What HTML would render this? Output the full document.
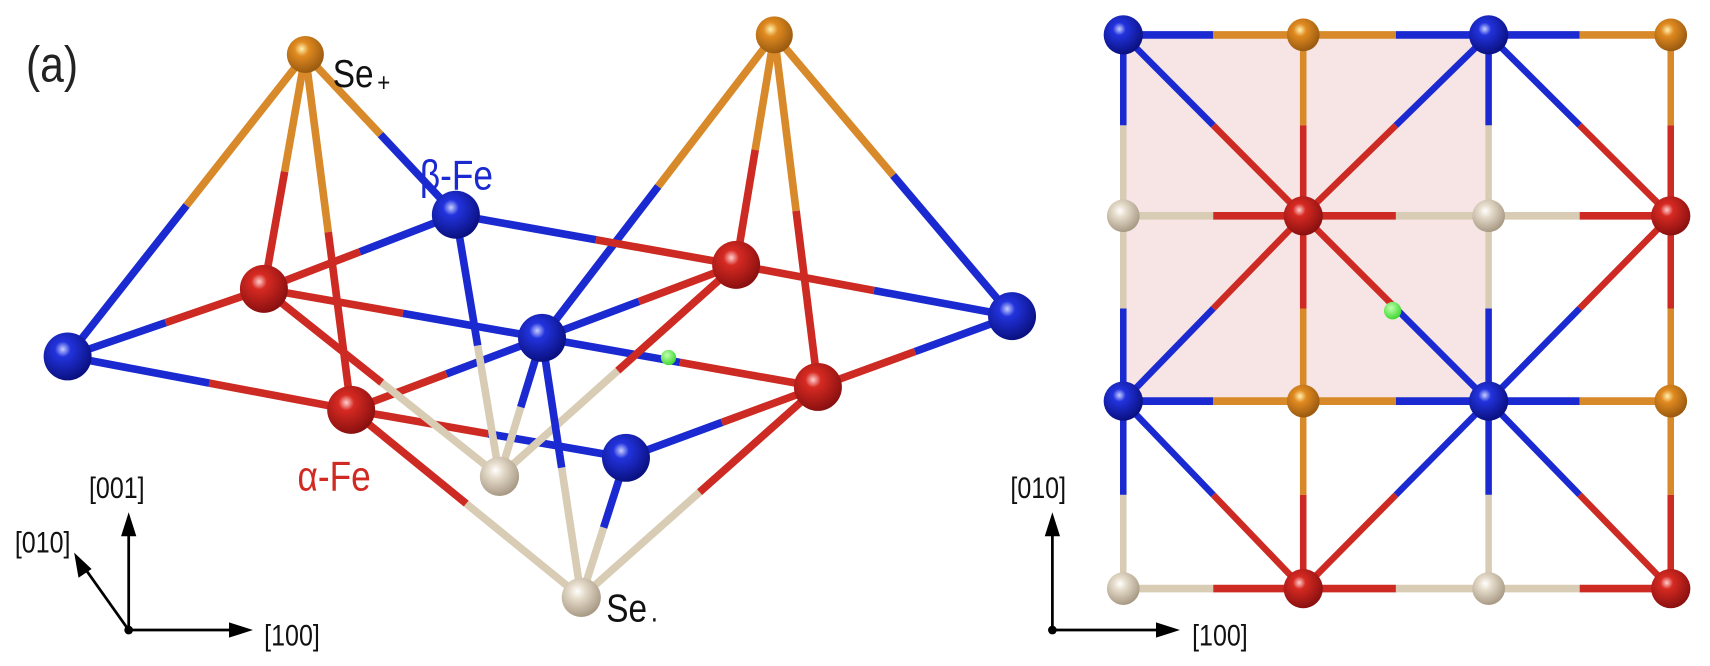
<!DOCTYPE html>
<html><head><meta charset="utf-8"><style>
html,body{margin:0;padding:0;background:#fff;width:1710px;height:666px;overflow:hidden}
svg{display:block}
text{font-family:"Liberation Sans",sans-serif}
</style></head><body>
<svg id="s" width="1710" height="666" viewBox="0 0 1568 611" preserveAspectRatio="none" xmlns="http://www.w3.org/2000/svg">
<defs>
<radialGradient id="gB" cx="40%" cy="35%" r="65%"><stop offset="0" stop-color="#c8cfff"/><stop offset="0.25" stop-color="#2233dd"/><stop offset="1" stop-color="#0a1080"/></radialGradient>
<radialGradient id="gR" cx="40%" cy="35%" r="65%"><stop offset="0" stop-color="#ffd0d0"/><stop offset="0.25" stop-color="#d62a22"/><stop offset="1" stop-color="#8a1010"/></radialGradient>
<radialGradient id="gO" cx="40%" cy="35%" r="65%"><stop offset="0" stop-color="#fff2b0"/><stop offset="0.3" stop-color="#e08a20"/><stop offset="1" stop-color="#9a5a10"/></radialGradient>
<radialGradient id="gW" cx="40%" cy="35%" r="65%"><stop offset="0" stop-color="#ffffff"/><stop offset="0.3" stop-color="#e6dccb"/><stop offset="1" stop-color="#a89a85"/></radialGradient>
<radialGradient id="gG" cx="40%" cy="35%" r="65%"><stop offset="0" stop-color="#c0ffb0"/><stop offset="1" stop-color="#3fd830"/></radialGradient>
</defs>
<rect x="1030" y="32" width="335" height="336" fill="#f7e4e4"/>
<g id="bonds"></g>
<g id="atoms"></g>
<g transform="scale(0.85,1)">
<text x="28" y="75" font-size="46" fill="#222">(a)</text>
<text x="359" y="80" font-size="36" fill="#111">Se</text><text x="407" y="84" font-size="24" fill="#111">+</text>
<text x="453" y="174" font-size="38" fill="#1a2ad0">β-Fe</text>
<text x="321" y="450" font-size="38" fill="#d02a22">α-Fe</text>
<text x="654" y="570" font-size="36" fill="#111">Se</text><text x="702" y="570" font-size="28" fill="#111">.</text>
<text x="96" y="457" font-size="27" fill="#111">[001]</text>
<text x="16" y="507" font-size="27" fill="#111">[010]</text>
<text x="285" y="592" font-size="27" fill="#111">[100]</text>
<text x="1090" y="457" font-size="27" fill="#111">[010]</text>
<text x="1286" y="592" font-size="27" fill="#111">[100]</text>
</g>
<g stroke="#000" stroke-width="2.5" fill="none">
<line x1="118" y1="578" x2="118" y2="478"/><line x1="118" y1="578" x2="222" y2="578"/><line x1="118" y1="578" x2="74" y2="516"/>
<line x1="965" y1="578" x2="965" y2="478"/><line x1="965" y1="578" x2="1072" y2="578"/>
</g>
<g fill="#000">
<polygon points="118,470 111,492 125,492"/><polygon points="232,578 210,571 210,585"/><polygon points="68,507 72,530 84,522"/>
<polygon points="965,470 958,492 972,492"/><polygon points="1082,578 1060,571 1060,585"/>
<circle cx="118" cy="578" r="4"/><circle cx="965" cy="578" r="4"/>
</g>
</svg>
<script>
var C={B:'#1a2ad0',R:'#cc2a22',O:'#d8892a',W:'#d9ccb5'};
var A={se1:[280,50,17,'O'],se2:[710,32,17,'O'],bf:[418,197,22,'B'],rA:[242,265,22,'R'],rB:[675,243,22,'R'],
bL:[62,327,22,'B'],bC:[497,310,22,'B'],bR:[928,290,22,'B'],rC:[322,376,22,'R'],rD:[750,355,22,'R'],
bD:[574,420,22,'B'],w1:[458,437,18,'W'],w2:[533,548,18,'W']};
var bonds=[['se1','bL'],['se1','rA'],['se1','rC'],['se1','bf'],['se2','bC'],['se2','rB'],['se2','rD'],['se2','bR'],
['bL','rA'],['bL','rC'],['rA','bf'],['bf','rB'],['rB','bR'],['bR','rD'],['rA','bC'],['bC','rB'],['rC','bC'],['bC','rD'],
['rC','bD'],['bD','rD'],['w1','bf'],['w1','rA'],['w1','rB'],['w1','bC'],['w2','rC'],['w2','bC'],['w2','bD'],['w2','rD']];
var bg=document.getElementById('bonds'),ag=document.getElementById('atoms'),ns='http://www.w3.org/2000/svg';
function ln(x1,y1,x2,y2,c,w){var l=document.createElementNS(ns,'line');l.setAttribute('x1',x1);l.setAttribute('y1',y1);l.setAttribute('x2',x2);l.setAttribute('y2',y2);l.setAttribute('stroke',c);l.setAttribute('stroke-width',w);bg.appendChild(l);}
function bond(a,b,w){var mx=(a[0]+b[0])/2,my=(a[1]+b[1])/2;ln(a[0],a[1],mx,my,C[a[3]],w);ln(mx,my,b[0],b[1],C[b[3]],w);}
function atom(a){var c=document.createElementNS(ns,'circle');c.setAttribute('cx',a[0]);c.setAttribute('cy',a[1]);c.setAttribute('r',a[2]);c.setAttribute('fill','url(#g'+a[3]+')');ag.appendChild(c);}
bonds.forEach(function(p){bond(A[p[0]],A[p[1]],7)});
var xs=[1030,1195,1365,1532],ys=[32,198,368,540];
var types=[['B','O','B','O'],['W','R','W','R'],['B','O','B','O'],['W','R','W','R']];
function G(i,j){var t=types[j][i];return [xs[i],ys[j],(t=='B'||t=='R')?18:15,t];}
for(var j=0;j<4;j++)for(var i=0;i<3;i++)bond(G(i,j),G(i+1,j),7);
for(var j=0;j<3;j++)for(var i=0;i<4;i++)bond(G(i,j),G(i,j+1),6);
[[0,0,1,1],[1,1,2,0],[2,0,3,1],[1,1,0,2],[1,1,2,2],[3,1,2,2],[0,2,1,3],[2,2,1,3],[2,2,3,3]].forEach(function(d){bond(G(d[0],d[1]),G(d[2],d[3]),6)});
for(var k in A)atom(A[k]);
for(var j=0;j<4;j++)for(var i=0;i<4;i++)atom(G(i,j));
atom([613,328,7,'G']);atom([1277,285,8,'G']);
</script>
</body></html>
